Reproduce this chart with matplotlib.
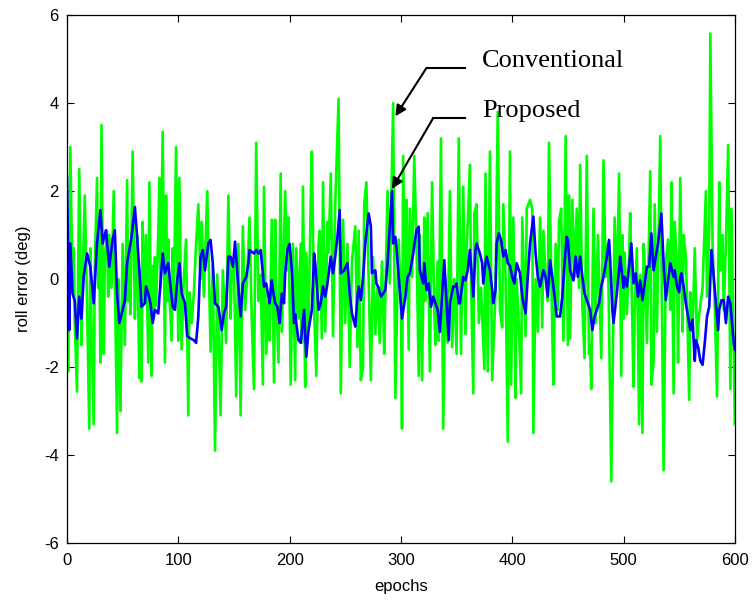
import matplotlib
matplotlib.use("Agg")
import matplotlib.pyplot as plt

# (epoch, roll error in deg), peaks and troughs
conventional_pts = [
    (0, 0.3), (1, -2.1), (3, 3.0), (5, -0.3), (6, 0.7), (7, -1.0), (9, -2.56), (11, 2.5),
    (13, -1.5), (14, 0.0), (16, 1.9), (18, -0.5), (20, -3.4), (21, 0.7), (22, -1.0), (24, -3.3),
    (25, 0.3), (27, 2.3), (28, -0.2), (29, 1.0), (30, -1.9), (31, 3.5), (33, -1.7), (34, 0.5),
    (36, 1.1), (37, -0.4), (38, 1.0), (40, -0.2), (42, 2.0), (43, 0.0), (45, -3.5), (46, 0.0),
    (47, -1.0), (48, -3.0), (50, 0.8), (52, -1.5), (54, 2.25), (55, -0.5), (56, 0.5), (57, -0.8),
    (59, 2.9), (61, -0.9), (62, 0.3), (63, 1.0), (65, -2.25), (66, 0.2), (67, -2.33), (68, 1.3),
    (69, -0.5), (71, 1.0), (73, -1.9), (74, 2.2), (76, -2.2), (77, 0.3), (78, -0.8), (79, 0.5),
    (80, -0.6), (82, 1.0), (83, 2.3), (84, -0.2), (86, 3.35), (88, -1.9), (89, 1.9), (90, -0.5),
    (91, 0.9), (92, -0.3), (94, -1.4), (95, 0.7), (96, -0.5), (98, 3.0), (100, -1.4), (101, 2.3),
    (103, -1.6), (105, 0.05), (107, 0.9), (109, -3.1), (110, -0.3), (112, -1.0), (114, -0.3),
    (116, 0.8), (118, 1.7), (120, 0.0), (121, 1.3), (123, -0.4), (126, 2.0), (129, -1.65),
    (131, 0.3), (133, -3.9), (135, 0.1), (138, -3.1), (140, 0.2), (143, -1.45), (145, 1.9),
    (147, -0.9), (148, 0.1), (150, 0.4), (152, -2.67), (154, 0.8), (156, -3.1), (158, 1.2),
    (160, -0.7), (162, 0.1), (164, 1.4), (166, -0.9), (168, -2.5), (170, 3.1), (172, -0.5),
    (174, 0.1), (176, -2.4), (177, 2.1), (179, -1.7), (181, -0.5), (182, -1.4), (184, 1.35),
    (186, -2.35), (187, 1.35), (188, -0.4), (190, -1.9), (192, 2.4), (193, -1.2), (196, 2.0),
    (198, 0.2), (199, 1.4), (201, -2.4), (203, 0.8), (205, -2.3), (206, 0.7), (208, -0.9),
    (210, 0.8), (211, -1.45), (212, 2.1), (214, -2.45), (215, 0.6), (217, -1.1), (219, 1.8),
    (220, 2.9), (222, -0.7), (224, -2.2), (226, 0.8), (227, 1.1), (229, -1.35), (230, 2.2),
    (232, -1.2), (234, 1.3), (235, 0.6), (237, 2.4), (239, -1.3), (241, 1.7), (244, 4.1),
    (246, -2.6), (248, 1.35), (250, -1.0), (252, 0.8), (254, -2.0), (256, 0.4), (259, 1.2),
    (261, -1.55), (262, 1.1), (264, -2.3), (266, -2.0), (267, 1.7), (269, 2.2), (271, 0.05),
    (273, -2.3), (275, 0.5), (277, -1.25), (279, -0.2), (281, -1.45), (283, 0.4), (285, -1.7),
    (286, -0.4), (288, 2.0), (290, -0.1), (293, 4.0), (295, -2.7), (297, -0.1), (298, 0.9),
    (300, -0.5), (301, -3.4), (302, 2.8), (304, -0.3), (305, 1.8), (307, -1.6), (308, 1.6),
    (310, 0.05), (312, 2.8), (314, 0.8), (316, -2.2), (317, 1.0), (319, -2.3), (321, 1.4),
    (322, -0.5), (324, 1.5), (326, -2.1), (328, 2.2), (330, -0.7), (331, -1.5), (333, 0.4),
    (334, -1.4), (336, 3.2), (338, -3.4), (340, 0.0), (342, -1.45), (344, 2.0), (346, -1.55),
    (348, 0.0), (350, -1.7), (352, 3.2), (354, -1.7), (356, 2.1), (358, -1.25), (359, 0.6),
    (362, 2.6), (363, 0.0), (365, -2.6), (366, 1.5), (368, 1.7), (370, -1.0), (372, -0.2),
    (375, -2.05), (376, 2.4), (378, -2.1), (380, 2.9), (382, -2.3), (385, -0.3), (387, 3.8),
    (389, -0.7), (391, -1.1), (392, 1.7), (394, 0.05), (396, -3.7), (398, 2.9), (399, -2.4),
    (401, 1.4), (403, -2.7), (404, 0.0), (406, -1.1), (408, -2.6), (409, 1.4), (412, -1.3),
    (413, 1.6), (416, 1.8), (418, 1.6), (419, -3.5), (421, 0.0), (423, -1.2), (425, 1.4),
    (427, -1.1), (428, 1.1), (430, 0.05), (432, -0.5), (433, 3.1), (436, -1.2), (437, -2.4),
    (439, 0.8), (441, -0.7), (442, 1.3), (444, 1.6), (446, -1.4), (448, 3.25), (450, -1.5),
    (451, 1.9), (452, -1.35), (454, 1.8), (456, 0.05), (458, 1.6), (460, -0.2), (461, 2.6),
    (463, -0.6), (465, -1.8), (467, 2.8), (469, -1.7), (470, -1.5), (471, -2.5), (473, 1.6),
    (475, -1.0), (477, 1.0), (480, -1.8), (482, 2.7), (484, 0.05), (486, 0.8), (489, -4.6),
    (492, 1.4), (494, -0.4), (496, 2.4), (498, -2.2), (499, 1.0), (500, -0.9), (501, 0.6),
    (503, -0.8), (505, 0.5), (506, 1.5), (509, -2.45), (510, -0.7), (512, 0.7), (514, -3.3),
    (515, 0.1), (517, -3.5), (518, 0.8), (519, 0.35), (521, -1.45), (524, 2.45), (525, -2.4),
    (527, -1.9), (528, 1.7), (530, -1.2), (533, 3.25), (536, -4.35), (538, 0.4), (540, 0.9),
    (542, -0.7), (543, 2.2), (545, -2.6), (546, 1.3), (548, 0.3), (549, -1.9), (551, 2.3),
    (553, -1.2), (554, 1.0), (556, 0.5), (557, -0.4), (559, -2.75), (560, -0.3), (562, -1.2),
    (564, 0.7), (566, -1.4), (568, -0.8), (571, -0.2), (574, 2.0), (575, -0.4), (577, 1.1),
    (578, 5.58), (580, 0.8), (582, -0.6), (584, -2.67), (586, 2.2), (587, 0.2), (589, 1.0),
    (590, -0.7), (592, 0.8), (594, 3.05), (596, -2.5), (597, 1.6), (600, -3.3),
]

proposed_pts = [
    (0, 2.33), (2, -1.16), (3, 0.81), (5, -0.33), (7, -0.5), (9, -1.35), (11, -0.4), (13, -0.9),
    (15, 0.05), (18, 0.58), (21, 0.28), (24, -0.55), (27, 0.81), (30, 1.57), (32, 0.81), (35, 1.11),
    (38, 0.28), (41, 0.9), (43, 1.11), (45, -0.33), (47, -1.0), (50, -0.7), (52, -0.48), (54, 0.36),
    (56, 0.66), (58, 0.96), (61, 1.64), (63, 0.96), (65, 0.2), (67, -0.63), (70, -0.55), (71, -0.17),
    (73, -0.33), (75, -0.55), (77, -1.0), (79, -0.7), (82, -0.78), (84, -0.1), (86, 0.58), (88, 0.13),
    (91, 0.36), (93, -0.17), (95, -0.63), (97, -0.7), (99, -0.03), (101, 0.36), (103, -0.33),
    (106, -0.55), (108, -1.3), (111, -1.35), (114, -1.39), (116, -1.45), (118, -0.85), (120, 0.51),
    (122, 0.66), (124, 0.2), (127, 0.81), (129, 0.89), (131, 0.36), (133, -0.55), (136, -0.63),
    (139, -1.16), (141, -0.78), (143, -0.63), (145, 0.51), (147, 0.51), (149, 0.28), (151, 0.85),
    (153, 0.13), (156, -0.85), (158, -0.1), (161, 0.05), (163, 0.36), (164, 0.66), (168, 0.58),
    (170, 0.66), (172, 0.58), (174, 0.66), (176, 0.13), (177, -0.17), (179, -0.1), (182, -0.55),
    (184, -0.03), (185, -0.25), (187, -0.55), (189, -0.63), (191, -1.0), (193, -0.33), (195, -0.55),
    (196, 0.13), (198, 0.66), (199, 0.73), (200, 0.8), (202, 0.2), (204, -1.0), (205, -0.8),
    (208, -1.39), (210, -1.45), (211, -1.2), (213, -0.7), (215, -1.77), (217, -1.16), (220, -0.7),
    (222, 0.58), (223, 0.36), (226, -0.7), (228, -0.55), (230, -0.17), (232, -0.4), (234, -0.1),
    (237, 0.51), (239, 0.13), (241, 0.51), (243, 0.96), (245, 1.57), (246, 0.13), (249, 0.2),
    (252, 0.36), (254, -0.33), (256, -0.78), (259, -1.08), (261, -0.4), (262, -0.17), (264, -0.48),
    (266, 0.05), (268, 0.81), (271, 1.49), (273, 1.2), (274, 0.13), (277, 0.2), (278, -0.1),
    (280, -0.2), (282, -0.4), (284, -0.33), (286, -0.25), (288, 0.36), (292, 2.0), (293, 0.81),
    (295, 0.96), (296, 0.7), (298, 0.05), (301, -0.9), (304, -0.4), (306, 0.05), (308, 0.13),
    (311, 0.58), (314, 1.11), (316, 1.19), (317, 0.2), (320, -0.1), (321, 0.36), (323, -0.25),
    (325, -0.1), (327, -0.63), (329, -0.4), (331, -0.55), (333, -0.7), (335, -1.2), (337, -0.4),
    (339, 0.43), (341, -0.55), (343, -1.39), (344, -0.55), (347, -0.17), (349, -0.17), (350, -0.1),
    (352, -0.55), (353, -0.55), (356, 0.05), (358, -0.03), (360, 0.2), (362, 0.66), (365, -0.4),
    (367, 0.66), (368, 0.81), (371, 0.58), (373, 0.36), (374, -0.1), (376, 0.36), (377, 0.51),
    (380, 0.2), (382, -0.25), (383, -0.55), (385, -0.25), (386, 0.81), (388, 1.04), (390, 0.89),
    (392, 0.51), (394, 0.66), (396, 0.36), (398, 0.3), (400, 0.05), (402, -0.1), (404, 0.36),
    (407, 0.13), (409, -0.4), (412, -0.78), (414, 0.05), (416, 0.81), (419, 1.42), (421, 0.58),
    (423, 0.05), (425, -0.17), (428, 0.2), (430, 0.05), (432, -0.4), (434, 0.43), (436, 0.05),
    (438, -0.4), (440, -0.85), (443, -0.85), (445, -0.4), (447, 0.36), (449, 0.96), (450, 0.89),
    (452, 0.2), (455, -0.03), (457, 0.51), (459, 0.05), (461, 0.51), (463, 0.05), (465, -0.33),
    (467, -0.48), (470, -0.7), (472, -1.16), (474, -0.85), (476, -0.7), (478, -0.55), (480, -0.17),
    (482, 0.05), (485, 0.51), (487, 0.89), (488, 0.43), (490, -0.7), (491, -1.0), (493, -0.55),
    (496, 0.2), (497, 0.51), (499, 0.05), (500, -0.2), (501, 0.05), (503, -0.17), (505, 0.28),
    (507, 0.81), (509, -0.1), (511, 0.13), (513, -0.4), (515, -0.03), (517, -0.48), (519, -0.1),
    (521, 0.28), (523, 0.28), (525, 1.04), (527, 0.2), (529, 0.51), (531, 0.81), (534, 1.49),
    (536, 0.36), (538, -0.48), (540, -0.03), (542, 0.36), (545, 0.05), (546, 0.2), (548, -0.17),
    (550, -0.3), (551, 0.05), (552, 0.13), (554, -0.17), (556, -0.55), (558, -0.85), (560, -1.16),
    (562, -0.92), (564, -1.86), (565, -1.39), (567, -1.54), (569, -1.86), (571, -1.95), (573, -1.45),
    (575, -0.85), (577, -0.63), (579, 0.66), (581, 0.05), (583, -0.55), (585, -1.16), (586, -0.7),
    (588, -0.48), (590, -0.48), (592, -1.0), (594, -0.4), (596, -0.55), (598, -1.16), (599, -1.45),
    (600, -1.6),
]

x_ticks = [0, 100, 200, 300, 400, 500, 600]
y_ticks = [-6, -4, -2, 0, 2, 4, 6]

conv_x, conv_y = zip(*conventional_pts)
prop_x, prop_y = zip(*proposed_pts)

plt.rcParams["font.family"] = ["Liberation Sans", "DejaVu Sans"]
plt.rcParams["axes.unicode_minus"] = False

fig = plt.figure(figsize=(7.56, 6.05), dpi=100)
ax = fig.add_axes([0.0886, 0.1025, 0.8834, 0.8725])

ax.plot(conv_x, conv_y, color="#00ff00", lw=1.9)
ax.plot(prop_x, prop_y, color="#0000ff", lw=1.9)

ax.set_xlim(0, 600)
ax.set_ylim(-6, 6)
ax.set_xticks(x_ticks)
ax.set_yticks(y_ticks)
ax.tick_params(direction="in", top=True, right=True, length=5, width=0.8, labelsize=12)
ax.tick_params(axis="x", pad=7)
ax.tick_params(axis="y", pad=6)
for sp in ax.spines.values():
    sp.set_linewidth(0.9)
ax.set_xlabel("epochs", fontsize=12, labelpad=8)
ax.set_ylabel("roll error (deg)", fontsize=12, labelpad=9)

# annotations avec flèches coudées
serif = ["Liberation Serif", "DejaVu Serif"]
ax.plot([323, 358], [4.8, 4.8], color="k", lw=1.5)
ax.annotate("", xy=(295, 3.7), xytext=(323, 4.8),
            arrowprops=dict(arrowstyle="-|>", color="k", lw=1.5, mutation_scale=16,
                            shrinkA=0, shrinkB=0))
ax.text(373, 4.95, "Conventional", family=serif, fontsize=19, va="center", ha="left")

ax.plot([329, 358], [3.66, 3.66], color="k", lw=1.5)
ax.annotate("", xy=(292, 2.05), xytext=(329, 3.66),
            arrowprops=dict(arrowstyle="-|>", color="k", lw=1.5, mutation_scale=16,
                            shrinkA=0, shrinkB=0))
ax.text(373, 3.82, "Proposed", family=serif, fontsize=19, va="center", ha="left")

fig.savefig("out.png", dpi=100)
